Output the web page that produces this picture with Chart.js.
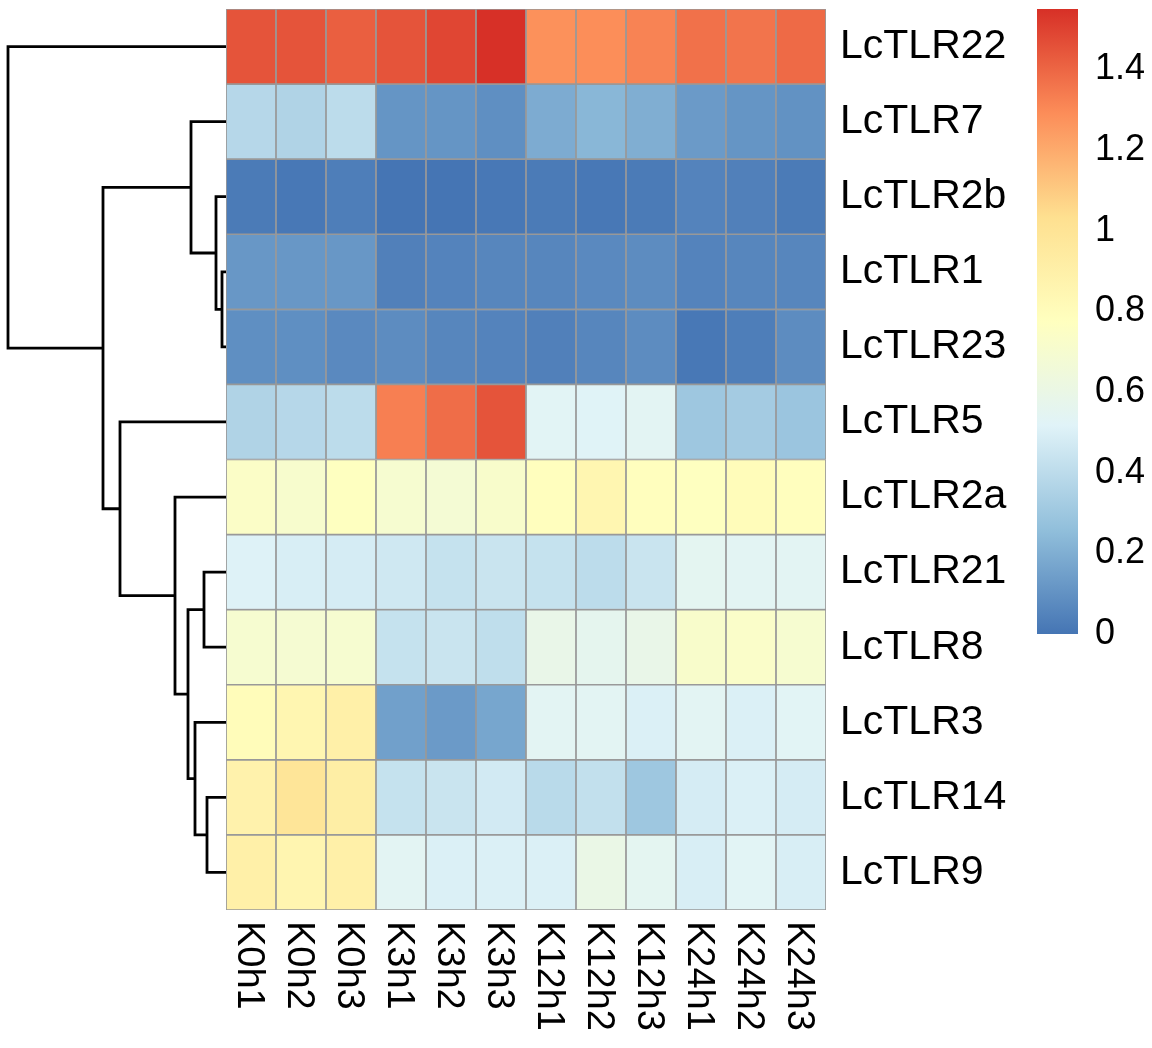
<!DOCTYPE html>
<html>
<head>
<meta charset="utf-8">
<script src="https://cdn.jsdelivr.net/npm/chart.js@4.4.1/dist/chart.umd.min.js"></script>
<style>
  html, body { margin: 0; padding: 0; background: #fff; }
  #wrap { position: relative; width: 1152px; height: 1048px; }
  canvas { position: absolute; top: 0; }
</style>
</head>
<body>
<div id="wrap">
  <canvas id="tree" width="230" height="1048" style="left:0"></canvas>
  <canvas id="heat" width="1030" height="1048" style="left:0"></canvas>
  <canvas id="key" width="152" height="1048" style="left:1000px"></canvas>
</div>
<script>
// columns and rows (rows already in dendrogram order, top to bottom)
const samples = ['K0h1', 'K0h2', 'K0h3', 'K3h1', 'K3h2', 'K3h3', 'K12h1', 'K12h2', 'K12h3', 'K24h1', 'K24h2', 'K24h3'];
const genes = ['LcTLR22', 'LcTLR7', 'LcTLR2b', 'LcTLR1', 'LcTLR23', 'LcTLR5', 'LcTLR2a', 'LcTLR21', 'LcTLR8', 'LcTLR3', 'LcTLR14', 'LcTLR9'];

// one value per sample
const LcTLR22 = [1.45, 1.45, 1.42, 1.45, 1.49, 1.55, 1.28, 1.29, 1.32, 1.37, 1.36, 1.39];
const LcTLR7  = [0.38, 0.36, 0.40, 0.11, 0.11, 0.09, 0.19, 0.23, 0.20, 0.13, 0.11, 0.10];
const LcTLR2b = [0.02, 0.01, 0.03, 0.00, 0.00, 0.01, 0.02, 0.01, 0.02, 0.05, 0.04, 0.02];
const LcTLR1  = [0.12, 0.12, 0.12, 0.04, 0.05, 0.06, 0.06, 0.07, 0.08, 0.05, 0.06, 0.06];
const LcTLR23 = [0.09, 0.09, 0.07, 0.08, 0.06, 0.05, 0.04, 0.06, 0.08, 0.01, 0.03, 0.08];
const LcTLR5  = [0.36, 0.38, 0.40, 1.33, 1.38, 1.45, 0.53, 0.52, 0.54, 0.30, 0.32, 0.29];
const LcTLR2a = [0.74, 0.71, 0.77, 0.70, 0.68, 0.72, 0.78, 0.85, 0.78, 0.77, 0.80, 0.78];
const LcTLR21 = [0.51, 0.49, 0.48, 0.46, 0.43, 0.44, 0.43, 0.40, 0.44, 0.55, 0.54, 0.54];
const LcTLR8  = [0.70, 0.69, 0.70, 0.43, 0.44, 0.41, 0.59, 0.56, 0.59, 0.72, 0.73, 0.70];
const LcTLR3  = [0.80, 0.85, 0.90, 0.15, 0.13, 0.17, 0.54, 0.54, 0.50, 0.54, 0.50, 0.53];
const LcTLR14 = [0.88, 0.99, 0.92, 0.43, 0.44, 0.47, 0.39, 0.42, 0.30, 0.48, 0.50, 0.48];
const LcTLR9  = [0.90, 0.86, 0.90, 0.54, 0.50, 0.50, 0.50, 0.60, 0.55, 0.49, 0.53, 0.49];
const rows = [LcTLR22, LcTLR7, LcTLR2b, LcTLR1, LcTLR23, LcTLR5, LcTLR2a, LcTLR21, LcTLR8, LcTLR3, LcTLR14, LcTLR9];

// row clustering, hclust style: negative = leaf (1-based row), positive = earlier merge
const mergeA = [-4, -3, -2, -11, -8, -10, 5, -7, -6, 3, -1];
const mergeB = [-5, 1, 2, -12, -9, 4, 6, 7, 8, 9, 10];
const mergeHeight = [4, 10, 35, 19, 22, 31, 38, 51, 106, 123, 218];

// colour key
const keyMax = 1.55;
const keyTicks = [0, 0.2, 0.4, 0.6, 0.8, 1, 1.2, 1.4];
const ramp = ['#4575B4', '#91BFDB', '#E0F3F8', '#FFFFBF', '#FEE090', '#FC8D59', '#D73027'];

const FONT = '"Liberation Sans", Arial, Helvetica, sans-serif';
Chart.defaults.font.family = FONT;
Chart.defaults.color = '#000';

function hexRgb(h) {
  return [1, 3, 5].map(i => parseInt(h.slice(i, i + 2), 16));
}

function colorFor(v) {
  const t = Math.min(Math.max(v / keyMax, 0), 1) * (ramp.length - 1);
  const i = Math.min(Math.floor(t), ramp.length - 2);
  const f = t - i;
  const a = hexRgb(ramp[i]), b = hexRgb(ramp[i + 1]);
  const c = a.map((x, k) => Math.round(x + (b[k] - x) * f));
  return `rgb(${c[0]}, ${c[1]}, ${c[2]})`;
}

// axis labels must not push the plot area in
function fixedAxis(w) {
  return s => {
    s.width = w;
    s.paddingTop = 0;
    s.paddingBottom = 0;
  };
}

// sample names under the columns, rotated to read downwards
const colLabels = {
  id: 'colLabels',
  afterDraw(chart) {
    const { ctx, chartArea, scales: { x } } = chart;
    ctx.save();
    ctx.font = '38px ' + FONT;
    ctx.fillStyle = '#000';
    ctx.textAlign = 'left';
    ctx.textBaseline = 'alphabetic';
    samples.forEach((s, i) => {
      ctx.save();
      ctx.translate(x.getPixelForValue(i), chartArea.bottom + 11);
      ctx.rotate(Math.PI / 2);
      ctx.fillText(s, 0, 13.5);
      ctx.restore();
    });
    ctx.restore();
  }
};

// heatmap: one stacked bar segment per cell
new Chart(document.getElementById('heat'), {
  type: 'bar',
  data: {
    labels: samples,
    datasets: rows.map((vals, r) => ({
      label: genes[r],
      data: vals.map(() => 1),
      backgroundColor: vals.map(colorFor),
      borderColor: '#999999',
      borderWidth: 1.2,
      borderSkipped: false,
      barPercentage: 1,
      categoryPercentage: 1
    }))
  },
  options: {
    responsive: false,
    animation: false,
    events: [],
    layout: { padding: { left: 226, top: 9, right: 14, bottom: 18 } },
    plugins: { legend: { display: false }, tooltip: { enabled: false } },
    scales: {
      x: {
        stacked: true,
        ticks: { display: false },
        grid: { display: false, drawTicks: false },
        border: { display: false },
        afterFit: s => { s.height = 120; s.paddingLeft = 0; s.paddingRight = 0; }
      },
      y: {
        stacked: true,
        position: 'right',
        min: 0,
        max: genes.length,
        reverse: true,
        afterBuildTicks: s => { s.ticks = genes.map((g, i) => ({ value: i + 0.5 })); },
        ticks: {
          callback: (v, i) => genes[i],
          font: { size: 41 },
          color: '#000',
          padding: 14
        },
        grid: { display: false, drawTicks: false },
        border: { display: false },
        afterFit: fixedAxis(190)
      }
    }
  },
  plugins: [colLabels]
});

// dendrogram: one bracket per merge
const nodeY = [];
function nodePos(ref) {
  return ref < 0 ? { y: -ref, h: 0 } : { y: nodeY[ref - 1], h: mergeHeight[ref - 1] };
}
const treeSets = mergeA.map((a, k) => {
  const A = nodePos(a), B = nodePos(mergeB[k]);
  const h = mergeHeight[k];
  nodeY[k] = (A.y + B.y) / 2;
  return {
    data: [{ x: A.h, y: A.y }, { x: h, y: A.y }, { x: h, y: B.y }, { x: B.h, y: B.y }],
    showLine: true,
    borderColor: '#000',
    borderWidth: 2.8,
    pointRadius: 0,
    tension: 0,
    clip: false
  };
});

new Chart(document.getElementById('tree'), {
  type: 'scatter',
  data: { datasets: treeSets },
  options: {
    responsive: false,
    animation: false,
    events: [],
    layout: { padding: { left: 8, top: 9, right: 4, bottom: 138 } },
    plugins: { legend: { display: false }, tooltip: { enabled: false } },
    scales: {
      x: { type: 'linear', display: false, min: 0, max: mergeHeight[mergeHeight.length - 1], reverse: true },
      y: { type: 'linear', display: false, min: 0.5, max: genes.length + 0.5, reverse: true }
    }
  }
});

// colour key
new Chart(document.getElementById('key'), {
  type: 'bar',
  data: {
    labels: [''],
    datasets: [{
      data: [[0, keyMax]],
      backgroundColor: c => {
        const area = c.chart.chartArea;
        if (!area) return ramp[0];
        const g = c.chart.ctx.createLinearGradient(0, area.bottom, 0, area.top);
        ramp.forEach((col, i) => g.addColorStop(i / (ramp.length - 1), col));
        return g;
      },
      borderWidth: 0,
      barPercentage: 1,
      categoryPercentage: 1
    }]
  },
  options: {
    responsive: false,
    animation: false,
    events: [],
    layout: { padding: { left: 37, top: 9, right: 0, bottom: 414 } },
    plugins: { legend: { display: false }, tooltip: { enabled: false } },
    scales: {
      x: { display: false },
      y: {
        position: 'right',
        min: 0,
        max: keyMax,
        afterBuildTicks: s => { s.ticks = keyTicks.map(v => ({ value: v })); },
        ticks: {
          callback: v => String(+v.toFixed(1)),
          font: { size: 36 },
          color: '#000',
          padding: 17
        },
        grid: { display: false, drawTicks: false },
        border: { display: false },
        afterFit: fixedAxis(74)
      }
    }
  }
});
</script>
</body>
</html>
